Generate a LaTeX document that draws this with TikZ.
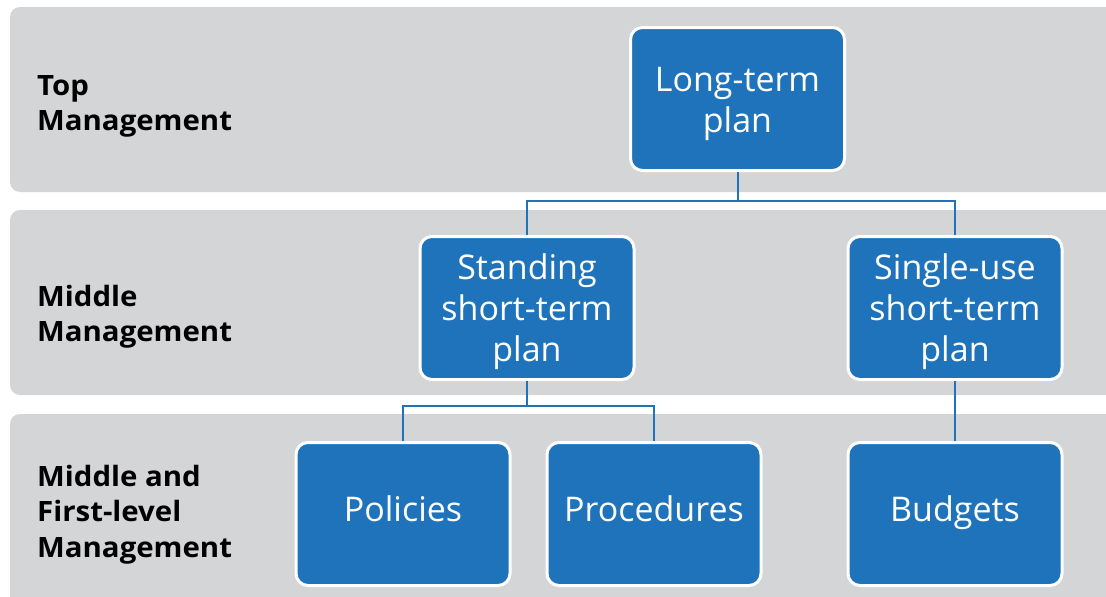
\documentclass[tikz,border=0pt]{standalone}
\usepackage{fontspec}
\setmainfont{Open Sans}
\newfontfamily\labelfont[FakeStretch=1.05]{Open Sans}
\definecolor{bandgray}{HTML}{D4D5D7}
\definecolor{boxblue}{HTML}{1F73BA}
\newcommand{\toppad}{\rule{0pt}{34pt}}
\newcommand{\botpad}{\rule[-10pt]{0pt}{10pt}}
\begin{document}
\begin{tikzpicture}[x=1pt,y=-1pt,
  band/.style={fill=bandgray, draw=none, rounded corners=10pt},
  planbox/.style={fill=boxblue, draw=white, line width=3pt, rounded corners=12pt,
    minimum width=214pt, minimum height=143pt, text width=210pt, align=center,
    text=white, inner sep=0pt, font=\fontsize{34}{41}\selectfont},
  levellabel/.style={anchor=west, align=left, inner sep=0pt, text=black,
    font=\labelfont\fontsize{28}{35.5}\selectfont\bfseries},
  link/.style={draw=boxblue, line width=2pt}]
\useasboundingbox (0,0) rectangle (1106,597);
\fill[white] (0,0) rectangle (1106,597);
% bands
\path[band] (10,7) rectangle (1125,192);
\path[band] (10,210) rectangle (1125,395);
\path[band] (10,414) rectangle (1125,615);
% labels
\node[levellabel] (ltop) at (37,106.5) {Top\\Management};
\node[levellabel] (lmid) at (37,316.5) {Middle\\Management};
\node[levellabel] (lfirst) at (37,514.5) {Middle and\\First-level\\Management};
% boxes
\node[planbox] (long) at (737.5,99) {\toppad Long-term\\plan};
\node[planbox] (stand) at (527,308) {\toppad Standing\\short-term\\plan};
\node[planbox] (single) at (955,308) {\toppad Single-use\\short-term\\plan};
\node[planbox] (pol) at (403,514) {\botpad Policies};
\node[planbox] (proc) at (654,514) {\botpad Procedures};
\node[planbox] (bud) at (955,514) {\botpad Budgets};
% connectors
\coordinate (j1) at (737.5,201);
\coordinate (j2) at (527,406);
\draw[link] (long.south) -- (j1);
\draw[link] (stand.north) |- (j1) -| (single.north);
\draw[link] (stand.south) -- (j2);
\draw[link] (pol.north) |- (j2) -| (proc.north);
\draw[link] (single.south) -- (bud.north);
\end{tikzpicture}
\end{document}
